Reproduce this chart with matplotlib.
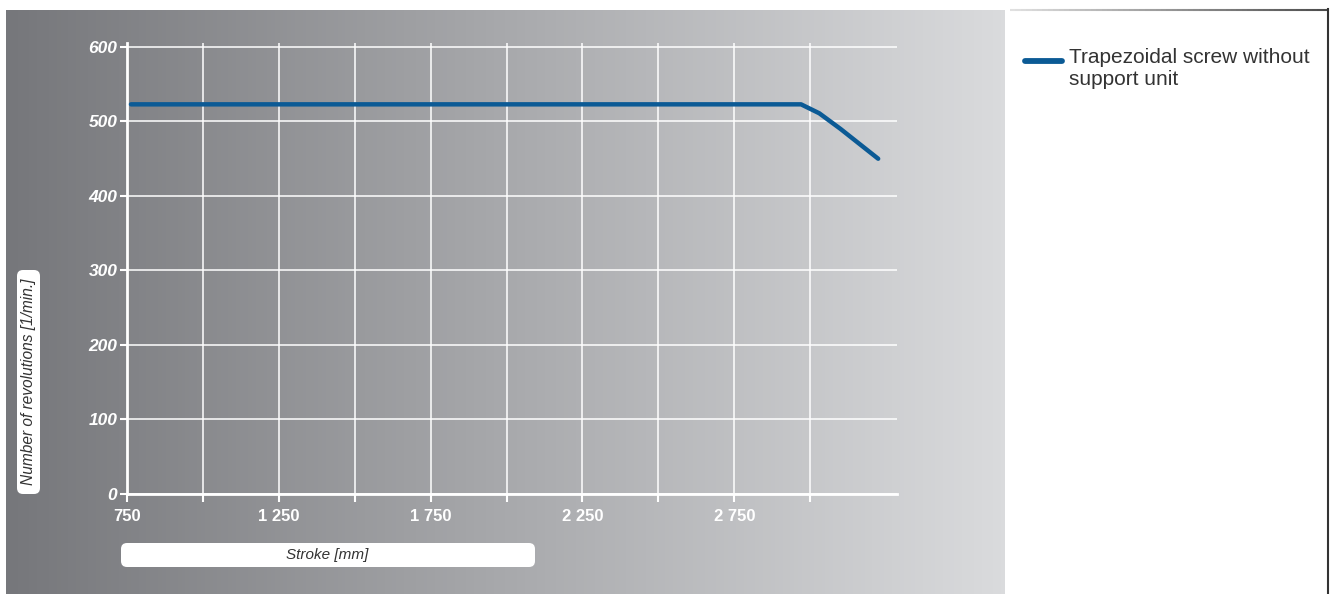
import matplotlib
matplotlib.use('Agg')
import matplotlib.pyplot as plt
from matplotlib.patches import FancyBboxPatch
import numpy as np

plt.rcParams['font.family'] = ['Liberation Sans', 'DejaVu Sans']

# data
stroke = [763, 2970, 3030, 3100, 3224]
rpm = [523, 523, 511, 490, 450]
x_ticks = [750, 1250, 1750, 2250, 2750]
x_ticklabels = ['750', '1 250', '1 750', '2 250', '2 750']
y_ticks = [0, 100, 200, 300, 400, 500, 600]
series_name = 'Trapezoidal screw without\nsupport unit'

W, H = 1330, 594
fig = plt.figure(figsize=(W / 100, H / 100), dpi=100)
fig.patch.set_facecolor('white')

def fx(px):
    return px / W

def fy(py):
    return 1 - py / H

# gray gradient background panel
bg = fig.add_axes([fx(6), fy(594), fx(1005) - fx(6), fy(10) - fy(594)])
grad = np.linspace(0, 1, 256).reshape(1, -1)
cmap = matplotlib.colors.LinearSegmentedColormap.from_list('bg', ['#76777b', '#dadbdd'])
bg.imshow(grad, aspect='auto', cmap=cmap, extent=[0, 1, 0, 1])
bg.set_axis_off()

# right legend panel frame
frame = fig.add_axes([0, 0, 1, 1], facecolor='none')
frame.set_xlim(0, W)
frame.set_ylim(H, 0)
frame.set_axis_off()
xs = np.linspace(1010, 1328, 60)
for i in range(len(xs) - 1):
    g = 0.88 - 0.6 * (i / len(xs))
    frame.plot(xs[i:i + 2], [9.5, 9.5], color=(g, g, g), lw=1.5, solid_capstyle='butt')
frame.plot([1328, 1328], [9, 594], color='#333333', lw=1.5)

# legend
frame.plot([1025, 1062], [61, 61], color='#0b5a95', lw=4.2, solid_capstyle='round')
frame.text(1069, 48, series_name, fontsize=15, color='#333333', va='top', ha='left',
           linespacing=1.2)

# axis label boxes
box_x = FancyBboxPatch((121, 543), 414, 24, boxstyle='round,pad=0,rounding_size=6',
                       fc='white', ec='none')
frame.add_patch(box_x)
frame.text(327, 555, 'Stroke [mm]', fontsize=11, style='italic', color='#333333',
           ha='center', va='center')
box_y = FancyBboxPatch((17, 270), 23, 224, boxstyle='round,pad=0,rounding_size=6',
                       fc='white', ec='none')
frame.add_patch(box_y)
frame.text(29, 382, 'Number of revolutions [1/min.]', fontsize=11.2, style='italic',
           color='#333333', ha='center', va='center', rotation=90)

# main chart
ax = fig.add_axes([fx(127), fy(494), fx(897) - fx(127), fy(42.5) - fy(494)])
ax.set_facecolor('none')
ax.plot(stroke, rpm, color='#0b5a95', lw=3.2, solid_capstyle='round', zorder=3)

ax.set_xlim(750, 3286)
ax.set_ylim(0, 606)
ax.set_xticks(x_ticks)
ax.set_xticks(np.arange(1000, 3251, 500), minor=True)
ax.set_xticklabels(x_ticklabels)
ax.set_yticks(y_ticks)
ax.set_yticklabels([str(v) for v in y_ticks])

ax.grid(True, which='both', color='white', lw=1.1)
for s in ['top', 'right']:
    ax.spines[s].set_visible(False)
for s in ['left', 'bottom']:
    ax.spines[s].set_color('white')
    ax.spines[s].set_linewidth(2)

ax.tick_params(axis='x', which='both', direction='out', length=6, width=1.5,
               color='white', pad=5)
ax.tick_params(axis='y', direction='out', length=5, width=1.5, color='white', pad=2)
for lab in ax.get_xticklabels():
    lab.set_color('white')
    lab.set_fontweight('bold')
    lab.set_fontsize(12)
for lab in ax.get_yticklabels():
    lab.set_color('white')
    lab.set_fontweight('bold')
    lab.set_fontstyle('italic')
    lab.set_fontsize(12.5)

fig.savefig('out.png', dpi=100)
